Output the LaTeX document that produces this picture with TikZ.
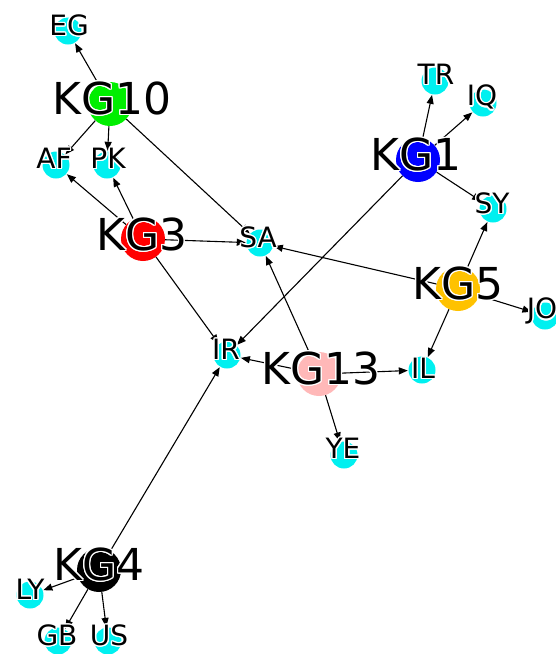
\documentclass[tikz,border=0pt]{standalone}
\usepackage{fontspec}
\setmainfont{DejaVu Sans}
\usepackage{contour}
\contourlength{1.3pt}
\usetikzlibrary{arrows.meta}
\definecolor{cyanN}{HTML}{00F0F0}
\definecolor{greenN}{HTML}{00EE00}
\definecolor{redN}{HTML}{FF0000}
\definecolor{blueN}{HTML}{0000FF}
\definecolor{goldN}{HTML}{FFC200}
\definecolor{pinkN}{HTML}{FFB8B8}
\tikzset{
  x=1pt, y=-1pt,
  leaf/.style={circle, fill=cyanN, minimum size=27pt, inner sep=0pt},
  hub/.style={circle, minimum size=44pt, inner sep=0pt},
  smalllab/.style={inner sep=0pt, font=\fontsize{28}{28}\selectfont},
  biglab/.style={inner sep=0pt, font=\fontsize{44}{44}\selectfont},
  edge/.style={line width=1.1pt, -{Triangle[length=9pt,width=7pt]}, shorten >=0.5pt}
}
\newcommand{\hl}[1]{\contour{white}{#1}}
\begin{document}
\begin{tikzpicture}
\useasboundingbox (0,0) rectangle (556,654);
% nodes (circles)
\node[leaf] (EG) at (68,31) {};
\node[leaf] (AF) at (56,165) {};
\node[leaf] (PK) at (107,165) {};
\node[leaf] (SA) at (260,243) {};
\node[leaf] (TR) at (435,81) {};
\node[leaf] (IQ) at (483,103) {};
\node[leaf] (SY) at (493,209) {};
\node[leaf] (JO) at (545,316) {};
\node[leaf] (IR) at (227,355) {};
\node[leaf] (IL) at (422,370) {};
\node[leaf] (YE) at (344,455) {};
\node[leaf] (LY) at (30,595) {};
\node[leaf] (GB) at (58,641) {};
\node[leaf] (US) at (108,641) {};
\node[hub, fill=greenN] (KG10) at (110,104) {};
\node[hub, fill=redN] (KG3) at (143,239) {};
\node[hub, fill=blueN] (KG1) at (418,160) {};
\node[hub, fill=goldN] (KG5) at (458,289) {};
\node[hub, fill=pinkN] (KG13) at (319,374) {};
\node[hub, fill=black] (KG4) at (99,570) {};
% edges
\foreach \s/\t in {KG10/EG, KG10/AF, KG10/PK, KG10/SA,
                   KG3/AF, KG3/PK, KG3/SA, KG3/IR,
                   KG1/TR, KG1/IQ, KG1/SY, KG1/IR,
                   KG5/SY, KG5/JO, KG5/SA, KG5/IL,
                   KG13/IR, KG13/IL, KG13/YE, KG13/SA,
                   KG4/IR, KG4/LY, KG4/GB, KG4/US}
  \draw[edge] (\s) -- (\t);
% labels
\node[smalllab] (lEG) at (69,26) {\hl{EG}};
\node[smalllab] (lAF) at (54,159) {\hl{AF}};
\node[smalllab] (lPK) at (108,159) {\hl{PK}};
\node[smalllab] (lSA) at (258,238) {\hl{SA}};
\node[smalllab] (lTR) at (436,75) {\hl{TR}};
\node[smalllab] (lIQ) at (482,98) {\hl{IQ}};
\node[smalllab] (lSY) at (492,204) {\hl{SY}};
\node[smalllab] (lJO) at (542,312) {\hl{JO}};
\node[smalllab] (lIR) at (226,350) {\hl{IR}};
\node[smalllab] (lIL) at (423,369) {\hl{IL}};
\node[smalllab] (lYE) at (343,449) {\hl{YE}};
\node[smalllab] (lLY) at (30,590) {\hl{LY}};
\node[smalllab] (lGB) at (57,636) {\hl{GB}};
\node[smalllab] (lUS) at (109,636) {\hl{US}};
\node[biglab] (lKG10) at (112,99) {\hl{KG10}};
\node[biglab] (lKG3) at (142,235) {\hl{KG3}};
\node[biglab] (lKG1) at (416,155) {\hl{KG1}};
\node[biglab] (lKG5) at (458,284) {\hl{KG5}};
\node[biglab] (lKG13) at (321,369) {\hl{KG13}};
\node[biglab] (lKG4) at (99,565) {\hl{KG4}};
\end{tikzpicture}
\end{document}
